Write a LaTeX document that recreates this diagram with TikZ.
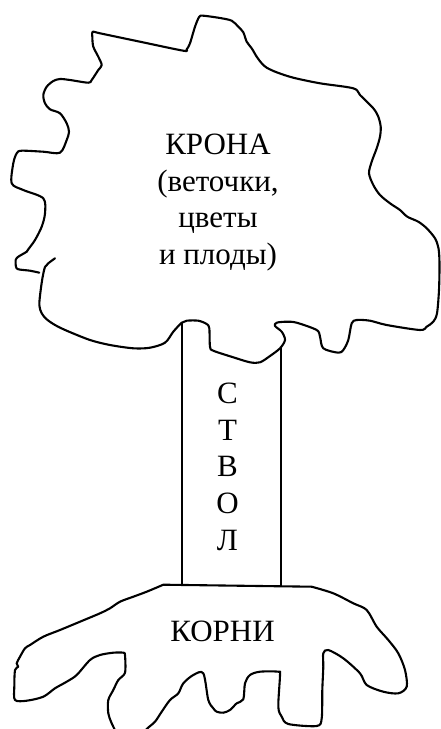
\documentclass[tikz,border=0pt]{standalone}
\usepackage{fontspec}
\setmainfont{Liberation Serif}
\begin{document}
\begin{tikzpicture}[x=1pt,y=-1pt,
  outline/.style={line width=2.1pt, line join=round, line cap=round},
  trunkline/.style={line width=1.8pt},
  lbl/.style={anchor=base, inner sep=0pt, font=\fontsize{31}{37}\selectfont}]
\useasboundingbox (0,0) rectangle (441,729);
\fill[white] (0,0) rectangle (441,729);
\clip (0,0) rectangle (441,729);

% crown
\draw[outline] plot[smooth, tension=0.5] coordinates {
 (55,258.3) (48.3,263.3) (45,267) (42.7,276.7) (40.7,290) (39.3,305) (41.7,313.3)
 (46.7,319.3) (55,325) (66.7,330.7) (90,340) (110,345) (133.3,348.3) (150,347.7)
 (165,342.7) (173.3,331.7) (181.7,322.7) (186.7,320.7) (198.3,320.7) (206.7,324)
 (209.3,328.3) (210,346.7) (213.3,350.7) (233.3,357.3) (250,362.3) (260,362.3)
 (270,356) (280,348.3) (285,340) (281.7,331.7) (275,326) (276.7,322.7) (286.7,321.7)
 (296.7,322.7) (316.7,330) (320,336.7) (323.3,348.3) (338.3,352.7) (343.3,350)
 (348.3,340) (351.7,323.3) (356.7,320) (370,320.7) (386.7,325) (420,330)
 (426.7,326.7) (433.3,321.7) (437,313.3) (439,290) (439.5,263.3) (438.5,248.3)
 (435,238.3) (426.7,228.3) (418.3,221.7) (407.3,216.7) (400,210) (390,203.3)
 (380,195) (373.3,185) (369,173.3) (371.7,161.7) (376.7,148.3) (380,136.7)
 (380.7,126.7) (378.3,116.7) (373.3,108.3) (360,95) (353.3,88.3) (320,83.3)
 (293.3,77.7) (276.7,72.3) (266.7,67.7) (261.7,63.3) (256.7,56.7) (251.7,48.3)
 (246.7,41.7) (243.3,32.3) (238.3,26.7) (231.7,20.7) (220,18) (203.3,15.7)
 (199.3,16.7) (195,26.7) (190,43.3) (186.7,49.3) (183.3,50.7) (140,41.7)
 (100,33.3) (92.7,31.7) (92.3,36.7) (93.3,46.7) (98.3,56.7) (101.7,65) (98.3,70)
 (91.7,80) (88.3,82.7) (70,80) (60,79) (53.3,81) (46.7,86.7) (43.3,95) (45,103.3)
 (50,109.3) (60,113.3) (66.7,123.3) (69,131.7) (66.7,140) (60,152.7) (43.3,151.7)
 (21.7,150.7) (16.7,153.3) (13.3,163.3) (11.7,183.3) (23.3,190) (43.3,198.3)
 (45,213.3) (41.7,226.7) (35,240) (28.3,249.3) (26.7,251.7) (18.3,256.7)
 (15.7,260) (16,266.7) (18.3,269.3) (30,270.7) (39.3,272.7)};

% trunk
\coordinate (tl1) at (182.3,323);
\coordinate (tl2) at (182.3,586);
\coordinate (tr1) at (280.7,348.3);
\coordinate (tr2) at (280.7,587);
\draw[trunkline] (tl1) -- (tl2);
\draw[trunkline] (tr1) -- (tr2);

% roots
\draw[outline] plot[smooth, tension=0.5] coordinates {
 (119,738) (111.7,723.3) (108.3,713.3) (108.3,700) (113.3,690) (118.3,680)
 (125,672.7) (125,655) (123.3,652.7) (113.3,652.7) (100,655) (90,660) (76.7,675)
 (66.7,681.7) (55,688.3) (43.3,696.7) (26.7,700.7) (15,700) (14.3,686.7) (15,670)
 (18.3,666.7) (16.7,663.3) (20,656.7) (25,648.3) (30,645) (43.3,636.7) (60,630)
 (80,621.7) (100,613.3) (110,608.3) (120,601.7) (133.3,596.7) (146.7,591.7)
 (163.3,584.7)}
 -- plot[smooth, tension=0.5] coordinates {
 (311.7,586.7) (333.3,593.3) (353.3,603.3) (366.7,610) (376.7,626.7) (388.3,640)
 (398.3,653.3) (405,670) (406.7,686.7) (398.3,693.3) (383.3,691.7) (366.7,685)
 (360,673.3) (343.3,658.3) (328.3,650) (323.3,653.3) (323.3,666.7) (322.3,690)
 (321.7,718.3) (316.7,726) (288.3,724) (281.7,716.7) (278.3,706.7) (280,675)
 (278.3,671.7) (260,671.7) (250,675) (245,683.3) (243.3,699.3) (236.7,703.3)
 (230,710) (223.3,712.7) (216.7,711.7) (213.3,708.3) (208.3,700) (203.3,673.3)
 (193.3,675) (183.3,683.3) (178.3,693.3) (170,700) (161.7,711.7) (155,721.7)
 (146.7,729) (140,738)};

% labels
\node[lbl] (crown1) at (218,154) {КРОНА};
\node[lbl] (crown2) at (218,191) {(веточки,};
\node[lbl] (crown3) at (218,227.5) {цветы};
\node[lbl] (crown4) at (218,264.5) {и плоды)};

\node[lbl] (s1) at (227.5,403.3) {С};
\node[lbl] (s2) at (227.5,440) {Т};
\node[lbl] (s3) at (227.5,476.7) {В};
\node[lbl] (s4) at (227.5,513.3) {О};
\node[lbl] (s5) at (227.5,550) {Л};

\node[lbl] (roots) at (222.5,641.7) {КОРНИ};
\end{tikzpicture}
\end{document}
